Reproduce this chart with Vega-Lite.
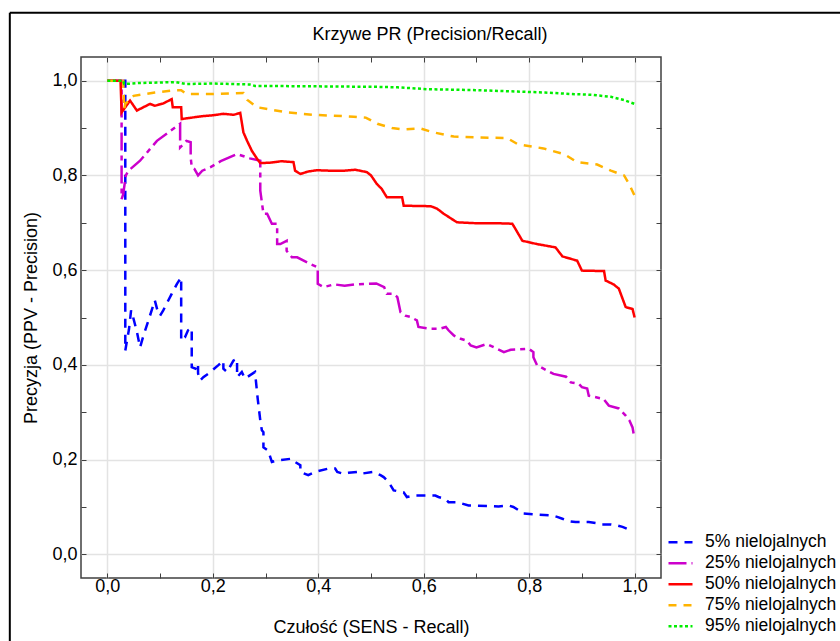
{
"$schema": "https://vega.github.io/schema/vega-lite/v6.json",
"width": 580, "height": 521,
"autosize": {"type": "none"},
"padding": {"left": 81, "top": 57, "right": 179, "bottom": 63},
"background": "white",
"title": {"text": "Krzywe PR (Precision/Recall)", "fontSize": 18, "font": "Liberation Sans", "fontWeight": "normal", "color": "black", "dx": 59, "dy": 46, "offset": 0, "baseline": "alphabetic"},
"config": {"view": {"stroke": "#404040", "strokeWidth": 1.5}, "font": "Liberation Sans"},
"datasets": {"pr": [
{"s":"5% nielojalnych","o":1,"x":0,"y":1},{"s":"5% nielojalnych","o":2,"x":0.032,"y":1},{"s":"5% nielojalnych","o":3,"x":0.034,"y":1},{"s":"5% nielojalnych","o":4,"x":0.034,"y":0.43},{"s":"5% nielojalnych","o":5,"x":0.037,"y":0.45},{"s":"5% nielojalnych","o":6,"x":0.041,"y":0.475},{"s":"5% nielojalnych","o":7,"x":0.045,"y":0.515},{"s":"5% nielojalnych","o":8,"x":0.049,"y":0.5},{"s":"5% nielojalnych","o":9,"x":0.056,"y":0.47},{"s":"5% nielojalnych","o":10,"x":0.062,"y":0.437},{"s":"5% nielojalnych","o":11,"x":0.068,"y":0.46},{"s":"5% nielojalnych","o":12,"x":0.078,"y":0.494},{"s":"5% nielojalnych","o":13,"x":0.09,"y":0.536},{"s":"5% nielojalnych","o":14,"x":0.096,"y":0.511},{"s":"5% nielojalnych","o":15,"x":0.1,"y":0.504},{"s":"5% nielojalnych","o":16,"x":0.106,"y":0.515},{"s":"5% nielojalnych","o":17,"x":0.122,"y":0.55},{"s":"5% nielojalnych","o":18,"x":0.132,"y":0.571},{"s":"5% nielojalnych","o":19,"x":0.14,"y":0.585},{"s":"5% nielojalnych","o":20,"x":0.14,"y":0.451},{"s":"5% nielojalnych","o":21,"x":0.147,"y":0.458},{"s":"5% nielojalnych","o":22,"x":0.153,"y":0.473},{"s":"5% nielojalnych","o":23,"x":0.16,"y":0.478},{"s":"5% nielojalnych","o":24,"x":0.16,"y":0.395},{"s":"5% nielojalnych","o":25,"x":0.167,"y":0.392},{"s":"5% nielojalnych","o":26,"x":0.172,"y":0.403},{"s":"5% nielojalnych","o":27,"x":0.172,"y":0.382},{"s":"5% nielojalnych","o":28,"x":0.176,"y":0.367},{"s":"5% nielojalnych","o":29,"x":0.182,"y":0.374},{"s":"5% nielojalnych","o":30,"x":0.191,"y":0.381},{"s":"5% nielojalnych","o":31,"x":0.21,"y":0.399},{"s":"5% nielojalnych","o":32,"x":0.22,"y":0.409},{"s":"5% nielojalnych","o":33,"x":0.22,"y":0.392},{"s":"5% nielojalnych","o":34,"x":0.227,"y":0.385},{"s":"5% nielojalnych","o":35,"x":0.239,"y":0.409},{"s":"5% nielojalnych","o":36,"x":0.246,"y":0.413},{"s":"5% nielojalnych","o":37,"x":0.246,"y":0.374},{"s":"5% nielojalnych","o":38,"x":0.255,"y":0.385},{"s":"5% nielojalnych","o":39,"x":0.261,"y":0.371},{"s":"5% nielojalnych","o":40,"x":0.28,"y":0.385},{"s":"5% nielojalnych","o":41,"x":0.285,"y":0.33},{"s":"5% nielojalnych","o":42,"x":0.29,"y":0.283},{"s":"5% nielojalnych","o":43,"x":0.293,"y":0.262},{"s":"5% nielojalnych","o":44,"x":0.296,"y":0.258},{"s":"5% nielojalnych","o":45,"x":0.296,"y":0.226},{"s":"5% nielojalnych","o":46,"x":0.305,"y":0.219},{"s":"5% nielojalnych","o":47,"x":0.309,"y":0.205},{"s":"5% nielojalnych","o":48,"x":0.312,"y":0.195},{"s":"5% nielojalnych","o":49,"x":0.322,"y":0.198},{"s":"5% nielojalnych","o":50,"x":0.35,"y":0.202},{"s":"5% nielojalnych","o":51,"x":0.356,"y":0.195},{"s":"5% nielojalnych","o":52,"x":0.366,"y":0.188},{"s":"5% nielojalnych","o":53,"x":0.366,"y":0.174},{"s":"5% nielojalnych","o":54,"x":0.381,"y":0.167},{"s":"5% nielojalnych","o":55,"x":0.394,"y":0.174},{"s":"5% nielojalnych","o":56,"x":0.419,"y":0.181},{"s":"5% nielojalnych","o":57,"x":0.432,"y":0.181},{"s":"5% nielojalnych","o":58,"x":0.436,"y":0.174},{"s":"5% nielojalnych","o":59,"x":0.448,"y":0.17},{"s":"5% nielojalnych","o":60,"x":0.457,"y":0.172},{"s":"5% nielojalnych","o":61,"x":0.474,"y":0.174},{"s":"5% nielojalnych","o":62,"x":0.48,"y":0.17},{"s":"5% nielojalnych","o":63,"x":0.505,"y":0.174},{"s":"5% nielojalnych","o":64,"x":0.518,"y":0.167},{"s":"5% nielojalnych","o":65,"x":0.524,"y":0.163},{"s":"5% nielojalnych","o":66,"x":0.533,"y":0.153},{"s":"5% nielojalnych","o":67,"x":0.543,"y":0.135},{"s":"5% nielojalnych","o":68,"x":0.562,"y":0.131},{"s":"5% nielojalnych","o":69,"x":0.568,"y":0.121},{"s":"5% nielojalnych","o":70,"x":0.58,"y":0.124},{"s":"5% nielojalnych","o":71,"x":0.622,"y":0.124},{"s":"5% nielojalnych","o":72,"x":0.628,"y":0.121},{"s":"5% nielojalnych","o":73,"x":0.641,"y":0.117},{"s":"5% nielojalnych","o":74,"x":0.647,"y":0.11},{"s":"5% nielojalnych","o":75,"x":0.663,"y":0.11},{"s":"5% nielojalnych","o":76,"x":0.673,"y":0.107},{"s":"5% nielojalnych","o":77,"x":0.685,"y":0.103},{"s":"5% nielojalnych","o":78,"x":0.742,"y":0.101},{"s":"5% nielojalnych","o":79,"x":0.761,"y":0.103},{"s":"5% nielojalnych","o":80,"x":0.77,"y":0.1},{"s":"5% nielojalnych","o":81,"x":0.78,"y":0.093},{"s":"5% nielojalnych","o":82,"x":0.789,"y":0.086},{"s":"5% nielojalnych","o":83,"x":0.815,"y":0.084},{"s":"5% nielojalnych","o":84,"x":0.844,"y":0.082},{"s":"5% nielojalnych","o":85,"x":0.853,"y":0.079},{"s":"5% nielojalnych","o":86,"x":0.863,"y":0.075},{"s":"5% nielojalnych","o":87,"x":0.875,"y":0.07},{"s":"5% nielojalnych","o":88,"x":0.888,"y":0.068},{"s":"5% nielojalnych","o":89,"x":0.913,"y":0.068},{"s":"5% nielojalnych","o":90,"x":0.926,"y":0.066},{"s":"5% nielojalnych","o":91,"x":0.935,"y":0.063},{"s":"5% nielojalnych","o":92,"x":0.955,"y":0.063},{"s":"5% nielojalnych","o":93,"x":0.967,"y":0.061},{"s":"5% nielojalnych","o":94,"x":0.977,"y":0.058},{"s":"5% nielojalnych","o":95,"x":0.99,"y":0.052},

{"s":"25% nielojalnych","o":1,"x":0,"y":1},{"s":"25% nielojalnych","o":2,"x":0.027,"y":1},{"s":"25% nielojalnych","o":3,"x":0.027,"y":0.75},{"s":"25% nielojalnych","o":4,"x":0.03,"y":0.76},{"s":"25% nielojalnych","o":5,"x":0.035,"y":0.8},{"s":"25% nielojalnych","o":6,"x":0.04,"y":0.81},{"s":"25% nielojalnych","o":7,"x":0.062,"y":0.831},{"s":"25% nielojalnych","o":8,"x":0.094,"y":0.873},{"s":"25% nielojalnych","o":9,"x":0.138,"y":0.909},{"s":"25% nielojalnych","o":10,"x":0.138,"y":0.859},{"s":"25% nielojalnych","o":11,"x":0.15,"y":0.873},{"s":"25% nielojalnych","o":12,"x":0.158,"y":0.87},{"s":"25% nielojalnych","o":13,"x":0.158,"y":0.838},{"s":"25% nielojalnych","o":14,"x":0.16,"y":0.818},{"s":"25% nielojalnych","o":15,"x":0.165,"y":0.814},{"s":"25% nielojalnych","o":16,"x":0.172,"y":0.8},{"s":"25% nielojalnych","o":17,"x":0.18,"y":0.81},{"s":"25% nielojalnych","o":18,"x":0.195,"y":0.817},{"s":"25% nielojalnych","o":19,"x":0.215,"y":0.83},{"s":"25% nielojalnych","o":20,"x":0.246,"y":0.845},{"s":"25% nielojalnych","o":21,"x":0.26,"y":0.84},{"s":"25% nielojalnych","o":22,"x":0.27,"y":0.836},{"s":"25% nielojalnych","o":23,"x":0.29,"y":0.831},{"s":"25% nielojalnych","o":24,"x":0.29,"y":0.768},{"s":"25% nielojalnych","o":25,"x":0.296,"y":0.719},{"s":"25% nielojalnych","o":26,"x":0.303,"y":0.719},{"s":"25% nielojalnych","o":27,"x":0.312,"y":0.698},{"s":"25% nielojalnych","o":28,"x":0.322,"y":0.698},{"s":"25% nielojalnych","o":29,"x":0.322,"y":0.655},{"s":"25% nielojalnych","o":30,"x":0.328,"y":0.655},{"s":"25% nielojalnych","o":31,"x":0.34,"y":0.662},{"s":"25% nielojalnych","o":32,"x":0.34,"y":0.641},{"s":"25% nielojalnych","o":33,"x":0.35,"y":0.627},{"s":"25% nielojalnych","o":34,"x":0.36,"y":0.627},{"s":"25% nielojalnych","o":35,"x":0.385,"y":0.613},{"s":"25% nielojalnych","o":36,"x":0.399,"y":0.606},{"s":"25% nielojalnych","o":37,"x":0.399,"y":0.571},{"s":"25% nielojalnych","o":38,"x":0.41,"y":0.564},{"s":"25% nielojalnych","o":39,"x":0.43,"y":0.57},{"s":"25% nielojalnych","o":40,"x":0.45,"y":0.567},{"s":"25% nielojalnych","o":41,"x":0.47,"y":0.57},{"s":"25% nielojalnych","o":42,"x":0.51,"y":0.572},{"s":"25% nielojalnych","o":43,"x":0.525,"y":0.564},{"s":"25% nielojalnych","o":44,"x":0.53,"y":0.55},{"s":"25% nielojalnych","o":45,"x":0.543,"y":0.55},{"s":"25% nielojalnych","o":46,"x":0.55,"y":0.543},{"s":"25% nielojalnych","o":47,"x":0.556,"y":0.511},{"s":"25% nielojalnych","o":48,"x":0.565,"y":0.504},{"s":"25% nielojalnych","o":49,"x":0.575,"y":0.501},{"s":"25% nielojalnych","o":50,"x":0.587,"y":0.494},{"s":"25% nielojalnych","o":51,"x":0.59,"y":0.48},{"s":"25% nielojalnych","o":52,"x":0.613,"y":0.476},{"s":"25% nielojalnych","o":53,"x":0.63,"y":0.476},{"s":"25% nielojalnych","o":54,"x":0.642,"y":0.48},{"s":"25% nielojalnych","o":55,"x":0.647,"y":0.473},{"s":"25% nielojalnych","o":56,"x":0.657,"y":0.462},{"s":"25% nielojalnych","o":57,"x":0.67,"y":0.455},{"s":"25% nielojalnych","o":58,"x":0.682,"y":0.451},{"s":"25% nielojalnych","o":59,"x":0.689,"y":0.441},{"s":"25% nielojalnych","o":60,"x":0.7,"y":0.437},{"s":"25% nielojalnych","o":61,"x":0.72,"y":0.444},{"s":"25% nielojalnych","o":62,"x":0.733,"y":0.437},{"s":"25% nielojalnych","o":63,"x":0.752,"y":0.427},{"s":"25% nielojalnych","o":64,"x":0.765,"y":0.432},{"s":"25% nielojalnych","o":65,"x":0.799,"y":0.434},{"s":"25% nielojalnych","o":66,"x":0.808,"y":0.427},{"s":"25% nielojalnych","o":67,"x":0.808,"y":0.416},{"s":"25% nielojalnych","o":68,"x":0.815,"y":0.399},{"s":"25% nielojalnych","o":69,"x":0.822,"y":0.395},{"s":"25% nielojalnych","o":70,"x":0.834,"y":0.388},{"s":"25% nielojalnych","o":71,"x":0.846,"y":0.381},{"s":"25% nielojalnych","o":72,"x":0.87,"y":0.375},{"s":"25% nielojalnych","o":73,"x":0.879,"y":0.363},{"s":"25% nielojalnych","o":74,"x":0.894,"y":0.36},{"s":"25% nielojalnych","o":75,"x":0.9,"y":0.353},{"s":"25% nielojalnych","o":76,"x":0.91,"y":0.35},{"s":"25% nielojalnych","o":77,"x":0.913,"y":0.335},{"s":"25% nielojalnych","o":78,"x":0.941,"y":0.328},{"s":"25% nielojalnych","o":79,"x":0.951,"y":0.314},{"s":"25% nielojalnych","o":80,"x":0.97,"y":0.308},{"s":"25% nielojalnych","o":81,"x":0.983,"y":0.293},{"s":"25% nielojalnych","o":82,"x":0.99,"y":0.283},{"s":"25% nielojalnych","o":83,"x":0.996,"y":0.268},{"s":"25% nielojalnych","o":84,"x":0.998,"y":0.255},

{"s":"50% nielojalnych","o":1,"x":0,"y":1},{"s":"50% nielojalnych","o":2,"x":0.025,"y":1},{"s":"50% nielojalnych","o":3,"x":0.027,"y":0.933},{"s":"50% nielojalnych","o":4,"x":0.043,"y":0.958},{"s":"50% nielojalnych","o":5,"x":0.056,"y":0.937},{"s":"50% nielojalnych","o":6,"x":0.081,"y":0.951},{"s":"50% nielojalnych","o":7,"x":0.09,"y":0.947},{"s":"50% nielojalnych","o":8,"x":0.106,"y":0.952},{"s":"50% nielojalnych","o":9,"x":0.122,"y":0.961},{"s":"50% nielojalnych","o":10,"x":0.124,"y":0.944},{"s":"50% nielojalnych","o":11,"x":0.14,"y":0.944},{"s":"50% nielojalnych","o":12,"x":0.141,"y":0.919},{"s":"50% nielojalnych","o":13,"x":0.16,"y":0.922},{"s":"50% nielojalnych","o":14,"x":0.18,"y":0.925},{"s":"50% nielojalnych","o":15,"x":0.2,"y":0.927},{"s":"50% nielojalnych","o":16,"x":0.22,"y":0.93},{"s":"50% nielojalnych","o":17,"x":0.24,"y":0.928},{"s":"50% nielojalnych","o":18,"x":0.252,"y":0.932},{"s":"50% nielojalnych","o":19,"x":0.258,"y":0.891},{"s":"50% nielojalnych","o":20,"x":0.265,"y":0.873},{"s":"50% nielojalnych","o":21,"x":0.274,"y":0.852},{"s":"50% nielojalnych","o":22,"x":0.284,"y":0.835},{"s":"50% nielojalnych","o":23,"x":0.29,"y":0.826},{"s":"50% nielojalnych","o":24,"x":0.31,"y":0.827},{"s":"50% nielojalnych","o":25,"x":0.33,"y":0.83},{"s":"50% nielojalnych","o":26,"x":0.353,"y":0.828},{"s":"50% nielojalnych","o":27,"x":0.356,"y":0.81},{"s":"50% nielojalnych","o":28,"x":0.366,"y":0.803},{"s":"50% nielojalnych","o":29,"x":0.38,"y":0.808},{"s":"50% nielojalnych","o":30,"x":0.397,"y":0.811},{"s":"50% nielojalnych","o":31,"x":0.42,"y":0.81},{"s":"50% nielojalnych","o":32,"x":0.45,"y":0.81},{"s":"50% nielojalnych","o":33,"x":0.47,"y":0.812},{"s":"50% nielojalnych","o":34,"x":0.492,"y":0.807},{"s":"50% nielojalnych","o":35,"x":0.5,"y":0.8},{"s":"50% nielojalnych","o":36,"x":0.511,"y":0.782},{"s":"50% nielojalnych","o":37,"x":0.52,"y":0.772},{"s":"50% nielojalnych","o":38,"x":0.53,"y":0.754},{"s":"50% nielojalnych","o":39,"x":0.559,"y":0.754},{"s":"50% nielojalnych","o":40,"x":0.562,"y":0.736},{"s":"50% nielojalnych","o":41,"x":0.613,"y":0.735},{"s":"50% nielojalnych","o":42,"x":0.625,"y":0.73},{"s":"50% nielojalnych","o":43,"x":0.638,"y":0.719},{"s":"50% nielojalnych","o":44,"x":0.663,"y":0.701},{"s":"50% nielojalnych","o":45,"x":0.7,"y":0.699},{"s":"50% nielojalnych","o":46,"x":0.74,"y":0.699},{"s":"50% nielojalnych","o":47,"x":0.768,"y":0.698},{"s":"50% nielojalnych","o":48,"x":0.775,"y":0.685},{"s":"50% nielojalnych","o":49,"x":0.787,"y":0.662},{"s":"50% nielojalnych","o":50,"x":0.815,"y":0.655},{"s":"50% nielojalnych","o":51,"x":0.85,"y":0.648},{"s":"50% nielojalnych","o":52,"x":0.863,"y":0.629},{"s":"50% nielojalnych","o":53,"x":0.891,"y":0.62},{"s":"50% nielojalnych","o":54,"x":0.9,"y":0.599},{"s":"50% nielojalnych","o":55,"x":0.942,"y":0.598},{"s":"50% nielojalnych","o":56,"x":0.945,"y":0.578},{"s":"50% nielojalnych","o":57,"x":0.96,"y":0.57},{"s":"50% nielojalnych","o":58,"x":0.97,"y":0.561},{"s":"50% nielojalnych","o":59,"x":0.983,"y":0.522},{"s":"50% nielojalnych","o":60,"x":0.996,"y":0.518},{"s":"50% nielojalnych","o":61,"x":1,"y":0.5},

{"s":"75% nielojalnych","o":1,"x":0,"y":1},{"s":"75% nielojalnych","o":2,"x":0.03,"y":1},{"s":"75% nielojalnych","o":3,"x":0.032,"y":0.94},{"s":"75% nielojalnych","o":4,"x":0.034,"y":0.951},{"s":"75% nielojalnych","o":5,"x":0.05,"y":0.968},{"s":"75% nielojalnych","o":6,"x":0.09,"y":0.975},{"s":"75% nielojalnych","o":7,"x":0.13,"y":0.98},{"s":"75% nielojalnych","o":8,"x":0.14,"y":0.98},{"s":"75% nielojalnych","o":9,"x":0.15,"y":0.972},{"s":"75% nielojalnych","o":10,"x":0.2,"y":0.972},{"s":"75% nielojalnych","o":11,"x":0.258,"y":0.974},{"s":"75% nielojalnych","o":12,"x":0.265,"y":0.96},{"s":"75% nielojalnych","o":13,"x":0.284,"y":0.944},{"s":"75% nielojalnych","o":14,"x":0.34,"y":0.933},{"s":"75% nielojalnych","o":15,"x":0.391,"y":0.928},{"s":"75% nielojalnych","o":16,"x":0.467,"y":0.924},{"s":"75% nielojalnych","o":17,"x":0.49,"y":0.922},{"s":"75% nielojalnych","o":18,"x":0.512,"y":0.909},{"s":"75% nielojalnych","o":19,"x":0.54,"y":0.9},{"s":"75% nielojalnych","o":20,"x":0.562,"y":0.897},{"s":"75% nielojalnych","o":21,"x":0.594,"y":0.899},{"s":"75% nielojalnych","o":22,"x":0.618,"y":0.891},{"s":"75% nielojalnych","o":23,"x":0.657,"y":0.882},{"s":"75% nielojalnych","o":24,"x":0.708,"y":0.88},{"s":"75% nielojalnych","o":25,"x":0.758,"y":0.879},{"s":"75% nielojalnych","o":26,"x":0.778,"y":0.866},{"s":"75% nielojalnych","o":27,"x":0.827,"y":0.857},{"s":"75% nielojalnych","o":28,"x":0.866,"y":0.845},{"s":"75% nielojalnych","o":29,"x":0.891,"y":0.828},{"s":"75% nielojalnych","o":30,"x":0.929,"y":0.823},{"s":"75% nielojalnych","o":31,"x":0.955,"y":0.81},{"s":"75% nielojalnych","o":32,"x":0.98,"y":0.8},{"s":"75% nielojalnych","o":33,"x":0.989,"y":0.783},{"s":"75% nielojalnych","o":34,"x":1,"y":0.757},

{"s":"95% nielojalnych","o":1,"x":0,"y":1},{"s":"95% nielojalnych","o":2,"x":0.03,"y":1},{"s":"95% nielojalnych","o":3,"x":0.032,"y":0.993},{"s":"95% nielojalnych","o":4,"x":0.06,"y":0.995},{"s":"95% nielojalnych","o":5,"x":0.094,"y":0.996},{"s":"95% nielojalnych","o":6,"x":0.13,"y":0.997},{"s":"95% nielojalnych","o":7,"x":0.15,"y":0.993},{"s":"95% nielojalnych","o":8,"x":0.2,"y":0.994},{"s":"95% nielojalnych","o":9,"x":0.27,"y":0.992},{"s":"95% nielojalnych","o":10,"x":0.28,"y":0.989},{"s":"95% nielojalnych","o":11,"x":0.4,"y":0.988},{"s":"95% nielojalnych","o":12,"x":0.51,"y":0.987},{"s":"95% nielojalnych","o":13,"x":0.55,"y":0.986},{"s":"95% nielojalnych","o":14,"x":0.607,"y":0.982},{"s":"95% nielojalnych","o":15,"x":0.7,"y":0.98},{"s":"95% nielojalnych","o":16,"x":0.778,"y":0.977},{"s":"95% nielojalnych","o":17,"x":0.83,"y":0.975},{"s":"95% nielojalnych","o":18,"x":0.878,"y":0.972},{"s":"95% nielojalnych","o":19,"x":0.92,"y":0.97},{"s":"95% nielojalnych","o":20,"x":0.955,"y":0.966},{"s":"95% nielojalnych","o":21,"x":0.98,"y":0.959},{"s":"95% nielojalnych","o":22,"x":1,"y":0.951}
]},
"layer": [
{
"data": {"name": "pr"},
"mark": {"type": "line", "strokeWidth": 2.5, "clip": true},
"encoding": {
"x": {"field": "x", "type": "quantitative",
 "scale": {"domain": [-0.05, 1.05], "nice": false, "zero": false},
 "axis": {"orient": "bottom", "values": [0,0.1,0.2,0.3,0.4,0.5,0.6,0.7,0.8,0.9,1.0],
  "labelExpr": "round(datum.value*10)%2==0 ? replace(format(datum.value,'.1f'),'.',',') : ''",
  "grid": true, "gridColor": {"condition": {"test": "round(datum.value*10)%2==0", "value": "#e3e3e3"}, "value": "transparent"}, "gridWidth": 1.5,
  "domain": false, "ticks": true, "tickSize": -5, "tickColor": "#404040", "tickWidth": 1,
  "labelFontSize": 18, "labelFont": "Liberation Sans", "labelColor": "black", "labelPadding": 4, "labelFlush": false,
  "title": "Czułość (SENS - Recall)", "titleFontSize": 18, "titleFont": "Liberation Sans", "titleFontWeight": "normal", "titleColor": "black", "titlePadding": 23}},
"y": {"field": "y", "type": "quantitative",
 "scale": {"domain": [-0.05, 1.05], "nice": false, "zero": false},
 "axis": {"orient": "left", "values": [0,0.1,0.2,0.3,0.4,0.5,0.6,0.7,0.8,0.9,1.0],
  "labelExpr": "round(datum.value*10)%2==0 ? replace(format(datum.value,'.1f'),'.',',') : ''",
  "grid": true, "gridColor": {"condition": {"test": "round(datum.value*10)%2==0", "value": "#e3e3e3"}, "value": "transparent"}, "gridWidth": 1.5,
  "domain": false, "ticks": true, "tickSize": -5, "tickColor": "#404040", "tickWidth": 1,
  "labelFontSize": 18, "labelFont": "Liberation Sans", "labelColor": "black", "labelPadding": 9, "labelFlush": false,
  "title": "Precyzja (PPV - Precision)", "titleFontSize": 18, "titleFont": "Liberation Sans", "titleFontWeight": "normal", "titleColor": "black", "titlePadding": 11}},
"color": {"field": "s", "type": "nominal", "title": null,
 "scale": {"domain": ["5% nielojalnych","25% nielojalnych","50% nielojalnych","75% nielojalnych","95% nielojalnych"], "range": ["#0000ff","#cc00cc","#ff0000","#ffb300","#00ee00"]},
 "legend": {"orient": "none", "legendX": 586, "legendY": 475, "symbolType": "stroke", "symbolSize": 576, "symbolStrokeWidth": 2.5, "labelFontSize": 17.5, "labelFont": "Liberation Sans", "labelColor": "black", "labelOffset": 11, "labelLimit": 300, "rowPadding": 0, "clipHeight": 20.7, "padding": 0}},
"strokeDash": {"field": "s", "type": "nominal", "title": null,
 "scale": {"domain": ["5% nielojalnych","25% nielojalnych","50% nielojalnych","75% nielojalnych","95% nielojalnych"], "range": [[9,7],[18,5,5,5],[1,0],[8,7],[3,2.5]]},
 "legend": {"orient": "none", "legendX": 586, "legendY": 475, "symbolType": "stroke", "symbolSize": 576, "symbolStrokeWidth": 2.5, "labelFontSize": 17.5, "labelFont": "Liberation Sans", "labelColor": "black", "labelOffset": 11, "labelLimit": 300, "rowPadding": 0, "clipHeight": 20.7, "padding": 0}},
"order": {"field": "o", "type": "quantitative"}
}
},
{
"data": {"values": [{"x": 0, "y": 0}]},
"mark": {"type": "point", "opacity": 0},
"encoding": {
"x": {"field": "x", "type": "quantitative", "axis": {"orient": "top", "values": [0,0.1,0.2,0.3,0.4,0.5,0.6,0.7,0.8,0.9,1.0], "labels": false, "grid": false, "domain": false, "tickSize": -5, "tickColor": "#404040", "title": null}},
"y": {"field": "y", "type": "quantitative", "axis": {"orient": "right", "values": [0,0.1,0.2,0.3,0.4,0.5,0.6,0.7,0.8,0.9,1.0], "labels": false, "grid": false, "domain": false, "tickSize": -5, "tickColor": "#404040", "title": null}}
}
},
{
"data": {"values": [{}]},
"mark": {"type": "rule", "clip": false, "color": "black", "strokeWidth": 2},
"encoding": {"x": {"datum": -0.185, "type": "quantitative", "axis": null}, "y": {"datum": 1.1435, "type": "quantitative", "axis": null}, "y2": {"datum": -0.3}}
},
{
"data": {"values": [{}]},
"mark": {"type": "rule", "clip": false, "color": "black", "strokeWidth": 2},
"encoding": {"y": {"datum": 1.1435, "type": "quantitative", "axis": null}, "x": {"datum": -0.185, "type": "quantitative", "axis": null}, "x2": {"datum": 1.7}}
}
],
"resolve": {"axis": {"x": "independent", "y": "independent"}}
}
